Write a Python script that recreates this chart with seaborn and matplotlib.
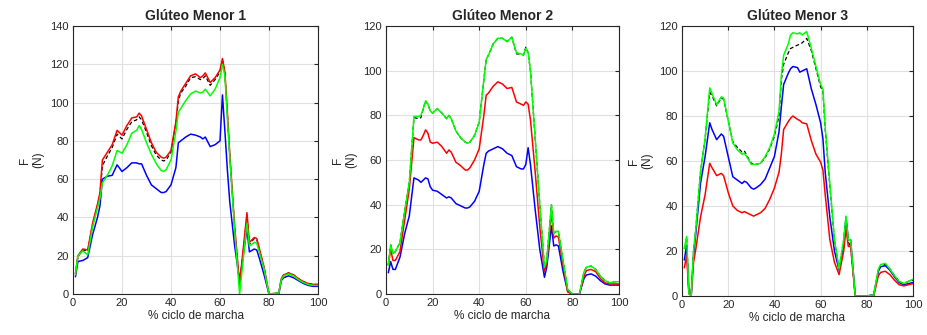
import numpy as np
import pandas as pd
import matplotlib
matplotlib.use("Agg")
import matplotlib.pyplot as plt
import seaborn as sns

# ==============================
# DATA
# ==============================

titles = ["Glúteo Menor 1", "Glúteo Menor 2", "Glúteo Menor 3"]

# Panel 1
p1_x = [1, 2, 4, 6, 8, 10, 11, 12, 14, 16, 18, 20, 22, 24, 26, 27, 28, 30, 32, 34,
        36, 37, 38, 40, 42, 43, 44, 46, 48, 50, 52, 53, 54, 56, 58, 60, 61, 62, 63, 64,
        66, 68, 71, 72, 74, 75, 76, 78, 80, 84, 85, 86, 88, 90, 92, 94, 96, 98, 100]
p1_black = [10.5, 19.5, 23, 22.5, 36, 46, 52, 67, 72, 76.5, 83.5, 81, 86, 90, 91, 92.5, 91, 84.5, 77.5, 72.5,
            70, 69.5, 70, 74, 89, 101, 105, 108.5, 113, 113.5, 112, 112.5, 114, 109, 112, 116, 122.5, 115, 94, 72,
            34, 4, 41, 26, 29, 28.5, 23.5, 13.5, 0, 0.5, 8, 10, 11, 10, 8, 6.5, 5.5, 5, 5]
p1_green = [10, 20, 22.5, 20.5, 35, 45, 50, 58, 62, 67, 75, 73.5, 78, 84, 85.5, 88, 86, 79, 73, 68,
            64.5, 64, 65, 70, 85, 95, 97, 101, 104.5, 106, 105, 105.5, 107, 103.5, 107, 113, 120, 114, 92, 71,
            33, 0, 37, 25, 27, 26.5, 22, 13, 0, 0.5, 7.5, 9.5, 10.5, 9.5, 7.5, 6, 5, 4.5, 4.5]
p1_red = [10.5, 20, 23.5, 23, 37, 47, 53, 70, 74, 78, 85.5, 83, 88, 92, 92.5, 94.5, 93, 86, 79, 74,
          71.5, 71, 71.5, 75, 90, 103, 106, 110, 114, 115, 113, 114, 115.5, 110.5, 113, 117, 123, 116, 95, 73,
          35, 5, 42.5, 27, 29.5, 29, 24, 14, 0, 0.5, 8, 10, 11, 10, 8, 6.5, 5.5, 5, 5]
p1_blue = [9, 17, 17.5, 19, 31, 40, 46, 60, 61.5, 62, 67.5, 64, 66, 68.5, 68.5, 68, 68, 62, 57, 55,
           53, 53, 53.5, 57, 66, 79, 80, 82, 83.5, 83, 82, 81, 82, 77, 78, 80, 104, 85, 65, 48,
           25, 7, 34, 22, 23.5, 23, 19, 10, 0, 0, 7, 8.5, 9.5, 8.5, 7, 5.5, 4.5, 4, 4]

# Panel 2
p2_x = [1, 2, 3, 4, 6, 8, 10, 12, 14, 15, 16, 17, 18, 19, 20, 22, 24, 26, 27, 28,
        30, 32, 34, 35, 36, 38, 40, 42, 43, 44, 46, 48, 50, 52, 54, 56, 58, 59, 60, 61,
        62, 64, 66, 68, 69, 71, 72, 73, 74, 76, 78, 80, 83, 85, 86, 88, 90, 92, 94, 96, 98, 100]
p2_black = [13, 22, 18, 19, 23, 37, 50, 79, 78.5, 79, 83, 86.5, 85, 82, 81, 83, 81, 78.5, 80, 78.5,
            73, 70, 68, 67.5, 68, 71, 77, 96, 105, 107, 112, 114.5, 114.5, 113, 115, 107.5, 107.5, 107, 110.5, 108,
            100, 70, 40, 12, 15, 40, 27, 28, 28, 15, 2, 0, 0, 10, 12, 12.5, 11, 8, 6, 5, 5.5, 5.5]
p2_green = [13, 22, 18, 19, 23, 37, 50, 79.5, 79.5, 80, 83, 86.5, 85, 82, 81, 83, 81, 78.5, 80, 78.5,
            73, 70, 68, 67.5, 68, 71, 77, 96, 105, 107, 112, 114.5, 114.5, 113, 115, 108, 107.5, 107, 110, 108,
            100, 70, 40, 12, 15, 40, 27, 28, 28, 15, 2, 0, 0, 10, 12, 12.5, 11, 8, 6, 5, 5.5, 5.5]
p2_red = [13, 20, 15, 15, 19, 33, 47, 70, 69, 69, 71, 73.5, 72, 68, 67.5, 68, 66, 63, 64.5, 63.5,
          59, 57.5, 55.5, 55.5, 56.5, 60, 65, 80, 89, 90, 93, 95, 94, 92, 92.5, 86, 85, 84.5, 86, 85,
          78, 55, 30, 10, 14, 37, 25, 26, 25.5, 13, 1, 0, 0, 8, 10.5, 11, 10, 7, 5, 4.5, 4.5, 4.5]
p2_blue = [9.5, 14.5, 11, 11, 16.5, 27, 35, 52, 51, 50, 51, 52, 51.5, 48, 46.5, 46, 44.5, 43, 43.5, 43,
           40.5, 39.5, 38.5, 38.5, 39, 41.5, 46, 58, 63, 64, 65, 66, 65, 63, 62, 57, 56, 56, 58, 65.5,
           58, 38, 20, 7.5, 12, 30.5, 21.5, 22, 21.5, 10, 1, 0, 0, 7, 8.5, 9, 8, 6, 4.5, 4, 4, 4]

# Panel 3
p3_x = [1, 2, 3, 4, 5, 6, 8, 10, 12, 13, 15, 17, 18, 20, 22, 24, 26, 27, 28, 30,
        31, 32, 34, 36, 38, 40, 42, 43, 44, 46, 47, 48, 50, 51, 52, 54, 56, 58, 60, 61,
        62, 64, 66, 68, 70, 71, 72, 73, 75, 80, 83, 85, 86, 88, 90, 92, 94, 96, 98, 100]
p3_black = [21, 26, 1, 0, 20, 30, 55, 70, 90.5, 89, 84.5, 88, 87.5, 78, 68.5, 66, 64, 64.5, 62.5, 59,
            58.5, 58.5, 59, 61.5, 65.5, 71, 80, 96, 103, 108, 110, 110.5, 111.5, 112, 112.5, 114.5, 109, 101, 93, 91,
            74, 49, 24.5, 12, 25, 35, 24, 22, 0, 0, 0.5, 11.5, 13.5, 14, 12, 9, 6.5, 5.5, 6.5, 7]
p3_green = [21, 26.5, 1, 0, 20, 30, 55, 70, 92.5, 90, 85, 88.5, 88, 78, 68, 65, 63, 63.5, 62, 58.5,
            58.5, 58.5, 59, 62, 66, 72, 82, 98, 107, 112, 116, 117, 116.5, 117, 116, 117.5, 110, 102, 94, 92,
            75, 50, 25, 12, 25, 35.5, 25, 25, 0, 0, 0.5, 12, 14, 14.5, 12, 9, 6.5, 5.5, 6.5, 7.5]
p3_red = [12.5, 18, 1, 0.5, 15, 21, 35, 45, 59, 57, 53.5, 54.5, 53.5, 46, 40, 38, 37, 37.5, 37, 36,
          35.5, 36, 37, 39, 43, 48, 55, 63, 74, 77.5, 79, 80, 78.5, 78, 77, 76.5, 69, 63, 59.5, 56,
          45, 25, 15, 9.5, 20, 30, 22, 22, 0, 0, 0, 9, 10.5, 11, 9.5, 7, 5, 4.5, 5, 5.5]
p3_blue = [16, 22.5, 1, 1, 18, 28, 50, 62, 77, 74, 69.5, 72, 71, 62, 53, 51.5, 50, 51, 50.5, 48,
           47.5, 48, 49.5, 52, 57, 62, 73, 84, 94, 99, 101, 102, 101.5, 99.5, 100, 101, 92, 85, 77, 70,
           55, 35, 20, 11.5, 22, 35, 25, 25, 0, 0, 0.5, 11, 13, 13.5, 11.5, 8.5, 6, 5, 5.5, 6]

panels = [
    (p1_x, p1_black, p1_green, p1_red, p1_blue, 140),
    (p2_x, p2_black, p2_green, p2_red, p2_blue, 120),
    (p3_x, p3_black, p3_green, p3_red, p3_blue, 120),
]

# ==============================
# STYLE
# ==============================

sns.set_style("whitegrid")
plt.rcParams['font.family'] = ['Liberation Sans', 'DejaVu Sans']
plt.rcParams['grid.color'] = '#e0e0e0'
plt.rcParams['grid.linewidth'] = 0.8

fig = plt.figure(figsize=(9.28, 3.35), dpi=100)

positions = [
    [73 / 928, 1 - 294 / 335, 245 / 928, 268 / 335],
    [386 / 928, 1 - 294 / 335, 233 / 928, 268 / 335],
    [682 / 928, 1 - 296 / 335, 231 / 928, 270 / 335],
]

for i, (xs, yk, yg, yr, yb, ymax) in enumerate(panels):
    ax = fig.add_axes(positions[i])
    # black dashed first, the coloured lines sit on top of it
    sns.lineplot(x=xs, y=yk, color='black', lw=0.9, ax=ax, linestyle=(0, (3, 2)))
    sns.lineplot(x=xs, y=yb, color=(0, 0, 1), lw=1.1, ax=ax)
    sns.lineplot(x=xs, y=yr, color=(1, 0, 0), lw=1.1, ax=ax)
    sns.lineplot(x=xs, y=yg, color=(0, 1, 0), lw=1.1, ax=ax)

    ax.set_xlim(0, 100)
    ax.set_ylim(0, ymax)
    ax.set_xticks(np.arange(0, 101, 20))
    ax.set_yticks(np.arange(0, ymax + 1, 20))
    ax.tick_params(direction='in', length=3, labelsize=8, colors='#262626',
                   top=True, right=True, pad=3)
    for s in ax.spines.values():
        s.set_color('#262626')
        s.set_linewidth(0.8)
    ax.set_title(titles[i], fontsize=10, fontweight='bold', pad=4)
    ax.set_xlabel("% ciclo de marcha", fontsize=8.5, color='#262626', labelpad=1)
    ax.set_ylabel("F\n(N)", fontsize=8.5, color='#262626', labelpad=4)

fig.savefig("out.png", dpi=100)
